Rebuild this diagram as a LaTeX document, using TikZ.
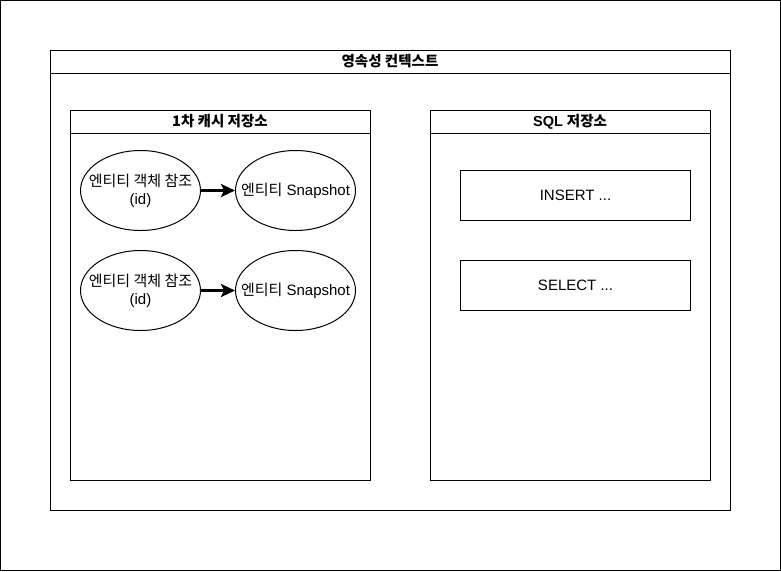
\documentclass[tikz,border=0pt]{standalone}
\usepackage{fontspec}
\setmainfont{Liberation Sans}
\newfontfamily\kr{Noto Sans CJK KR}
\usetikzlibrary{arrows.meta,shapes.geometric}
\begin{document}
\begin{tikzpicture}[x=1pt,y=-1pt,
  box/.style={draw,line width=1pt},
  hdr/.style={font=\fontsize{14.5}{17}\selectfont\bfseries},
  ent/.style={draw,line width=1pt,ellipse,minimum width=120pt,minimum height=80pt,inner xsep=-20pt,inner ysep=0pt,align=center,font=\fontsize{15}{18}\selectfont},
  sqlbox/.style={draw,line width=1pt,minimum width=230pt,minimum height=50pt,inner sep=0pt,font=\fontsize{15}{18}\selectfont},
  arr/.style={line width=3pt,-{Stealth[length=14pt,width=13pt,inset=3pt]}}]
\useasboundingbox (0,0) rectangle (781,571);
\draw[box] (0.5,0.5) rectangle (780.5,570.5);
% persistence context
\draw[box] (50.5,50.5) rectangle (730.5,510.5);
\draw[box] (50.5,73.5) -- (730.5,73.5);
\node[hdr] (pc) at (390,61.5) {\kr 영속성 컨텍스트};
% 1st cache
\draw[box] (70.5,110.5) rectangle (370.5,480.5);
\draw[box] (70.5,133.5) -- (370.5,133.5);
\node[hdr] (cache) at (220,121.5) {\kr 1차 캐시 저장소};
% SQL store
\draw[box] (430.5,110.5) rectangle (710.5,480.5);
\draw[box] (430.5,133.5) -- (710.5,133.5);
\node[hdr] (sql) at (570,121.5) {SQL {\kr 저장소}};
% entities
\node[ent] (e1) at (140.5,190.5) {{\kr 엔티티 객체 참조}\\(id)};
\node[ent] (s1) at (295.5,190.5) {{\kr 엔티티} Snapshot};
\node[ent] (e2) at (140.5,290.5) {{\kr 엔티티 객체 참조}\\(id)};
\node[ent] (s2) at (295.5,290.5) {{\kr 엔티티} Snapshot};
\draw[arr] (e1) -- (s1);
\draw[arr] (e2) -- (s2);
% SQL boxes
\node[sqlbox] (ins) at (575.5,195.5) {INSERT ...};
\node[sqlbox] (sel) at (575.5,285.5) {SELECT ...};
\end{tikzpicture}
\end{document}
